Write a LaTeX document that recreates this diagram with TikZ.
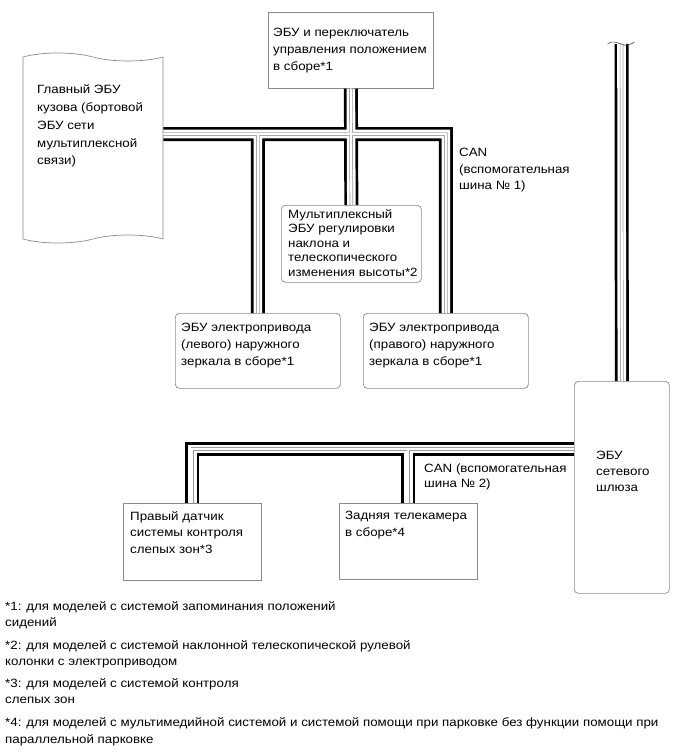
\documentclass[tikz,border=0pt]{standalone}
\usepackage{fontspec}
\setmainfont{Liberation Sans}[FakeStretch=1.11]
\usetikzlibrary{positioning,shapes.symbols}
\definecolor{eculine}{HTML}{8A8A8A}
\definecolor{wirecore}{HTML}{9C9C9C}
\tikzset{
  ecu/.style={draw=eculine,line width=0.7pt,fill=white,anchor=north west,inner sep=0pt},
  ecur/.style={ecu,rounded corners=4pt},
  lbl/.style={align=left,inner sep=0pt,anchor=north west,font=\fontsize{12}{17}\selectfont},
  note/.style={lbl,font=\fontsize{12}{16}\selectfont},
  bus/.style={draw=white,line width=2.1pt,line join=miter,
    preaction={draw=black,line width=14pt},
    preaction={draw=white,line width=8.6pt},
    preaction={draw=wirecore,line width=3.5pt}},
  brk/.style={draw=black!70,line width=0.6pt},
}
\begin{document}
\begin{tikzpicture}[x=1pt,y=-1pt]
  \useasboundingbox (0,0) rectangle (690,756);
  % blocks
  \node[ecu,shape=tape,tape bend top=out and in,tape bend bottom=in and out,tape bend height=8pt,
        minimum width=140pt,minimum height=190pt,anchor=center] (body) at (93,148) {};
  \node[ecu,minimum width=165pt,minimum height=76pt] (sw) at (268,12) {};
  \node[ecur,minimum width=140pt,minimum height=77pt] (tilt) at (281,205) {};
  \node[ecur,minimum width=165pt,minimum height=75pt] (lmir) at (175,313) {};
  \node[ecur,minimum width=165pt,minimum height=75pt] (rmir) at (363,313) {};
  \node[ecur,minimum width=95pt,minimum height=212pt] (gw) at (574,381) {};
  \node[ecu,minimum width=138pt,minimum height=77pt] (bsm) at (123,503) {};
  \node[ecu,minimum width=138pt,minimum height=76pt] (rcam) at (339,503) {};

  % texts
  \node[lbl,font=\fontsize{12}{17.8}\selectfont] (bodytxt) at (37,84.5) {Главный ЭБУ\\кузова (бортовой\\ЭБУ сети\\мультиплексной\\связи)};
  \node[lbl,below right=16.2pt and 5pt of sw.north west] (swtxt) {ЭБУ и переключатель\\управления положением\\в сборе*1};
  \node[lbl,font=\fontsize{12}{14.5}\selectfont,below right=4.2pt and 7pt of tilt.north west] (tilttxt)
    {Мультиплексный\\ЭБУ регулировки\\наклона и\\телескопического\\изменения высоты*2};
  \node[lbl,below right=10.2pt and 6pt of lmir.north west] (lmirtxt) {ЭБУ электропривода\\(левого) наружного\\зеркала в сборе*1};
  \node[lbl,below right=10.2pt and 6pt of rmir.north west] (rmirtxt) {ЭБУ электропривода\\(правого) наружного\\зеркала в сборе*1};
  \node[lbl,font=\fontsize{12}{16}\selectfont,below right=69.6pt and 22pt of gw.north west] (gwtxt) {ЭБУ\\сетевого\\шлюза};
  \node[lbl,font=\fontsize{12}{16.5}\selectfont,below right=8.2pt and 7pt of bsm.north west] (bsmtxt) {Правый датчик\\системы контроля\\слепых зон*3};
  \node[lbl,font=\fontsize{12}{16.5}\selectfont,below right=8.2pt and 6pt of rcam.north west] (rcamtxt) {Задняя телекамера\\в сборе*4};
  \node[lbl,font=\fontsize{12}{16.5}\selectfont] (can1txt) at (459,148.2) {CAN\\(вспомогательная\\шина № 1)};
  \node[lbl,font=\fontsize{12}{15}\selectfont] (can2txt) at (424,463.2) {CAN (вспомогательная\\шина № 2)};

  % CAN wiring
  \coordinate (can1) at (350,134);
  \coordinate (can2) at (400,449);
  \coordinate (gwend) at (621.5,44);
  \draw[bus] (body.east |- can1) -- (rmir.north |- can1) -- (rmir.north)
             (sw.south) -- (tilt.north)
             (lmir.north |- can1) -- (lmir.north);
  \draw[bus] (gw.west |- can2) -- (bsm.north |- can2) -- (bsm.north)
             (rcam.north |- can2) -- (rcam.north);
  \draw[bus] (gw.north) -- (gwend);
  \draw[brk] ([xshift=-14pt]gwend) .. controls +(4,-4) and +(-4,-1) .. (gwend)
             .. controls +(4,3) and +(-3,2) .. ([shift={(13,-2)}]gwend);

  % footnotes
  \node[note] (fn1) at (5,601.2) {*1: для моделей с системой запоминания положений\\сидений};
  \node[note] (fn2) at (5,640.2) {*2: для моделей с системой наклонной телескопической рулевой\\колонки с электроприводом};
  \node[note] (fn3) at (5,678.2) {*3: для моделей с системой контроля\\слепых зон};
  \node[note,font=\fontsize{12}{17}\selectfont] (fn4) at (5,717.2) {*4: для моделей с мультимедийной системой и системой помощи при парковке без функции помощи при\\параллельной парковке};
\end{tikzpicture}
\end{document}
